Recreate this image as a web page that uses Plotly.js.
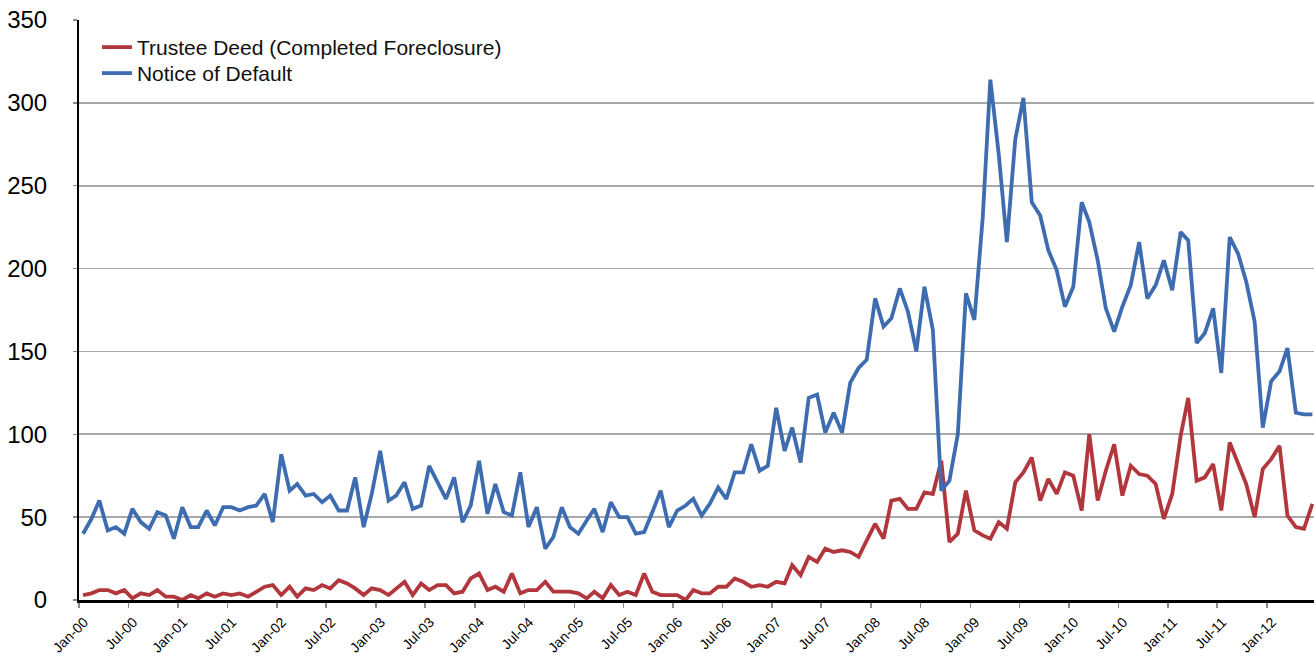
<!DOCTYPE html>
<html>
<head>
<meta charset="utf-8">
<script src="https://cdn.plot.ly/plotly-3.0.1.min.js"></script>
<style>
html,body{margin:0;padding:0;background:#fff;}
#chart{width:1314px;height:657px;}
</style>
</head>
<body>
<div id="chart"></div>
<script>
// Monthly observations Jan-2000 .. Jun-2012
const startYear = 2000;
const nMonths = 150;
const months = [];
for (let i = 0; i < nMonths; i++) {
  const y = startYear + Math.floor(i / 12);
  const m = (i % 12) + 1;
  months.push(y + '-' + String(m).padStart(2, '0') + '-16');
}

const trusteeDeed = [
  3,4,6,6,4,6,1,4,3,6,
  2,2,0,3,1,4,2,4,3,4,
  2,5,8,9,3,8,2,7,6,9,
  7,12,10,7,3,7,6,3,7,11,
  3,10,6,9,9,4,5,13,16,6,
  8,5,16,4,6,6,11,5,5,5,
  4,1,5,1,9,3,5,3,16,5,
  3,3,3,0,6,4,4,8,8,13,
  11,8,9,8,11,10,21,15,26,23,
  31,29,30,29,26,36,46,37,60,61,
  55,55,65,64,84,35,40,66,42,39,
  37,47,43,71,77,86,60,73,64,77,
  75,54,100,60,78,94,63,81,76,75,
  70,49,64,99,122,72,74,82,54,95,
  83,70,50,79,85,93,51,44,43,58
];

const noticeOfDefault = [
  40,49,60,42,44,40,55,47,43,53,
  51,37,56,44,44,54,45,56,56,54,
  56,57,64,47,88,66,70,63,64,59,
  63,54,54,74,44,64,90,60,63,71,
  55,57,81,71,61,74,47,57,84,52,
  70,53,51,77,44,56,31,38,56,44,
  40,48,55,41,59,50,50,40,41,53,
  66,44,54,57,61,51,58,68,61,77,
  77,94,78,81,116,90,104,83,122,124,
  101,113,101,131,140,145,182,165,170,188,
  174,150,189,163,66,72,100,185,169,231,
  314,269,216,278,303,240,232,211,199,177,
  189,240,228,205,176,162,177,190,216,182,
  190,205,187,222,217,155,161,176,137,219,
  209,192,168,104,132,138,152,113,112,112
];

const seriesNames = ['Trustee Deed (Completed Foreclosure)', 'Notice of Default'];
const seriesColors = ['#B2373C', '#3E6CB0'];

const traces = [
  {x: months, y: trusteeDeed, name: seriesNames[0], type: 'scatter', mode: 'lines',
   line: {color: seriesColors[0], width: 3.8}, legend: 'legend'},
  {x: months, y: noticeOfDefault, name: seriesNames[1], type: 'scatter', mode: 'lines',
   line: {color: seriesColors[1], width: 3.8}, legend: 'legend2'}
];

const legendStyle = {xanchor: 'left', yanchor: 'top',
  font: {size: 21, color: '#111'}, bgcolor: 'rgba(0,0,0,0)', itemwidth: 30};

const layout = {
  width: 1314, height: 657,
  margin: {l: 79, r: 0, t: 20, b: 57, pad: 0},
  paper_bgcolor: '#fff', plot_bgcolor: '#fff',
  font: {family: '"Liberation Sans", Arial, Helvetica, sans-serif', color: '#000'},
  showlegend: true,
  legend: Object.assign({x: 0.0145, y: 0.988}, legendStyle),
  legend2: Object.assign({x: 0.0145, y: 0.9432}, legendStyle),
  xaxis: {
    type: 'date',
    range: ['2000-01-01', '2012-06-22'],
    tick0: '2000-01-01', dtick: 'M6', tickformat: '%b-%y',
    tickangle: -45, tickfont: {size: 14},
    ticklabelstandoff: 1, ticklabelshift: 5,
    ticks: 'outside', ticklen: 5, tickwidth: 1.5, tickcolor: '#8a8a8a',
    showgrid: false, zeroline: false,
    showline: true, linecolor: '#000', linewidth: 2.5
  },
  yaxis: {
    range: [0, 350], dtick: 50, tick0: 0,
    tickfont: {size: 24},
    ticks: 'outside', ticklen: 4, tickwidth: 1.5, tickcolor: '#8a8a8a',
    ticklabelstandoff: 21,
    showgrid: true, gridcolor: '#a8a8a8', gridwidth: 1.6,
    zeroline: false,
    showline: true, linecolor: '#000', linewidth: 2
  }
};

Plotly.newPlot('chart', traces, layout, {staticPlot: true, displayModeBar: false});
</script>
</body>
</html>
